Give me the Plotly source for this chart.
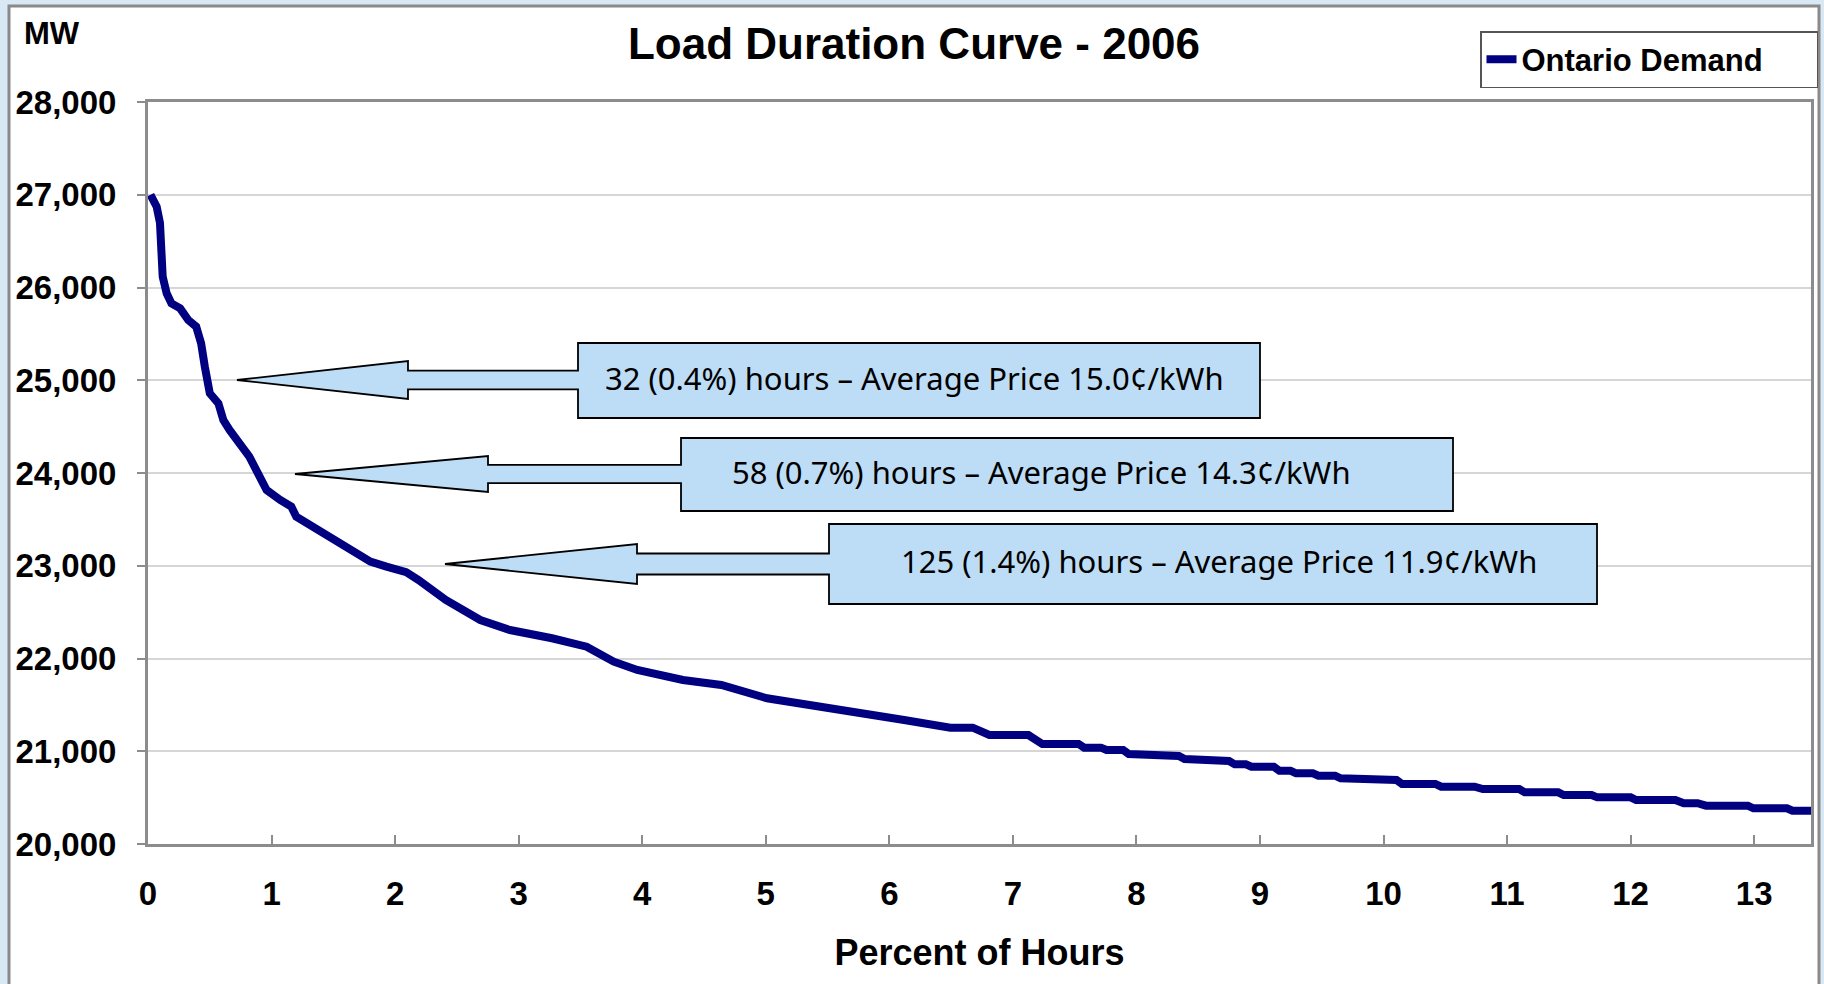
import plotly.graph_objects as go

# ---------------- data ----------------
percent_of_hours = [
    0.02, 0.07, 0.097, 0.11, 0.119, 0.151, 0.19, 0.26, 0.326, 0.39, 0.43, 0.46,
    0.50, 0.57, 0.61, 0.66, 0.77, 0.82, 0.89, 0.96, 1.07, 1.16, 1.20, 1.31,
    1.44, 1.55, 1.66, 1.80, 1.93, 2.09, 2.19, 2.41, 2.69, 2.93, 3.27, 3.55,
    3.77, 3.96, 4.33, 4.64, 5.01, 5.38, 5.75, 6.12,
    6.494, 6.675, 6.81, 7.126, 7.239, 7.532, 7.577, 7.713, 7.758, 7.893,
    7.938, 8.074, 8.096, 8.344, 8.39, 8.57, 8.615, 8.75, 8.796, 8.886,
    8.931, 9.112, 9.157, 9.247, 9.292, 9.428, 9.473, 9.608, 9.653, 9.834,
    9.879, 10.105, 10.15, 10.42, 10.466, 10.737, 10.804, 11.098, 11.143, 11.414,
    11.459, 11.684, 11.73, 12.0, 12.045, 12.362, 12.43, 12.542, 12.61, 12.949,
    12.994, 13.265, 13.31, 13.46,
]
ontario_demand_mw = [
    27000, 26871, 26695, 26440, 26117, 25937, 25829, 25775, 25650, 25578, 25398, 25146,
    24859, 24751, 24571, 24464, 24284, 24176, 23997, 23817, 23709, 23637, 23529, 23439,
    23350, 23260, 23170, 23044, 22990, 22930, 22846, 22631, 22415, 22307, 22218, 22127,
    21966, 21876, 21768, 21714, 21571, 21499, 21409, 21337,
    21254, 21254, 21175, 21175, 21078, 21078, 21039, 21039, 21013, 21013,
    20970, 20970, 20949, 20949, 20916, 20916, 20895, 20895, 20859, 20859,
    20834, 20834, 20791, 20791, 20762, 20762, 20737, 20737, 20708, 20708,
    20690, 20690, 20647, 20647, 20618, 20618, 20593, 20593, 20557, 20557,
    20528, 20528, 20503, 20503, 20474, 20474, 20439, 20439, 20413, 20413,
    20385, 20385, 20359, 20359,
]
series_name = "Ontario Demand"
x_ticks = list(range(0, 14))
y_ticks = list(range(20000, 28001, 1000))
callout_texts = [
    "32 (0.4%) hours \u2013 Average Price 15.0\u00a2/kWh",
    "58 (0.7%) hours \u2013 Average Price 14.3\u00a2/kWh",
    "125 (1.4%) hours \u2013 Average Price 11.9\u00a2/kWh",
]

# ---------------- layout geometry (pixels) ----------------
W, H = 1824, 984
PL, PR, PT, PB = 148, 1811, 102, 844   # plot-area edges


def px(x):
    return (x - PL) / (PR - PL)


def py(y):
    return (PB - y) / (PB - PT)


# callout geometry: tip x, tip y, head-back x, head half-height, shaft half-height,
# box left, box right, box top, box bottom, text centre x
callouts = [
    (237, 380, 408, 19, 9.3, 578, 1260, 343, 418, 914),
    (295, 474, 488, 18, 9.2, 681, 1453, 438, 511, 1041),
    (445, 564, 637, 20, 10.5, 829, 1597, 524, 604, 1219),
]

fig = go.Figure()
fig.add_trace(go.Scatter(
    x=percent_of_hours, y=ontario_demand_mw, mode="lines", name=series_name,
    line=dict(color="#000080", width=8),
))

shapes = []
# outer chart frame on the slide background
shapes.append(dict(type="rect", xref="paper", yref="paper", layer="below",
                   x0=px(9), x1=px(1819), y0=py(995), y1=py(6),
                   fillcolor="white", line=dict(color="#8A8A8A", width=3)))

annotations = []
for (tx, ty, hx, hh, sh, bl, br, bt, bb, tcx), txt in zip(callouts, callout_texts):
    pts = [
        (tx, ty), (hx, ty - hh), (hx, ty - sh), (bl, ty - sh), (bl, bt), (br, bt),
        (br, bb), (bl, bb), (bl, ty + sh), (hx, ty + sh), (hx, ty + hh),
    ]
    path = "M " + " L ".join(f"{px(a):.5f},{py(b):.5f}" for a, b in pts) + " Z"
    shapes.append(dict(type="path", xref="paper", yref="paper", path=path,
                       fillcolor="#BDDCF5", line=dict(color="black", width=1.8)))
    annotations.append(dict(xref="paper", yref="paper", x=px(tcx),
                            y=py((bt + bb) / 2 - 3),
                            text=txt, showarrow=False, xanchor="center", yanchor="middle",
                            font=dict(family="Noto Sans", size=31, color="black")))

annotations.append(dict(xref="paper", yref="paper", x=px(52), y=py(34), text="MW",
                        showarrow=False, xanchor="center", yanchor="middle",
                        font=dict(family="Liberation Sans", size=31, color="black",
                                  weight="bold")))

axis_grey = "#8C8C8C"
tick_font = dict(family="Liberation Sans", size=33, color="black", weight="bold")

fig.update_layout(
    width=W, height=H,
    margin=dict(l=PL, r=W - PR, t=PT, b=H - PB, autoexpand=False),
    paper_bgcolor="#D9E8F5",
    plot_bgcolor="white",
    title=dict(text="Load Duration Curve - 2006", x=914 / W, xref="container",
               xanchor="center", y=1 - 44 / H, yanchor="middle",
               font=dict(family="Liberation Sans", size=44, color="black",
                         weight="bold")),
    showlegend=True,
    legend=dict(x=px(1818), y=py(31), xanchor="right", yanchor="top",
                orientation="h", entrywidth=290, entrywidthmode="pixels",
                bgcolor="white", bordercolor="#555555", borderwidth=1.5,
                font=dict(family="Liberation Sans", size=31, color="black",
                          weight="bold")),
    shapes=shapes,
    annotations=annotations,
    xaxis=dict(range=[0, 13.46], tickvals=x_ticks, ticks="inside", ticklen=9,
               tickcolor=axis_grey, tickwidth=1.5, showgrid=False, zeroline=False,
               showline=True, linecolor=axis_grey, linewidth=3, mirror=True,
               tickfont=tick_font, ticklabelstandoff=18,
               title=dict(text="Percent of Hours", standoff=30,
                          font=dict(family="Liberation Sans", size=36,
                                    color="black", weight="bold"))),
    yaxis=dict(range=[20000, 28000], tickvals=y_ticks, tickformat=",d",
               ticks="outside", ticklen=8, tickcolor=axis_grey, tickwidth=1.5,
               showgrid=True, gridcolor="#D6D6D6", gridwidth=1.5, zeroline=False,
               showline=True, linecolor=axis_grey, linewidth=3, mirror=True,
               tickfont=tick_font, ticklabelstandoff=14),
)

fig.write_html("out.html",
               config={"displayModeBar": False},
               post_script="document.body.style.margin='0px';"
                           "document.body.style.overflow='hidden';")
